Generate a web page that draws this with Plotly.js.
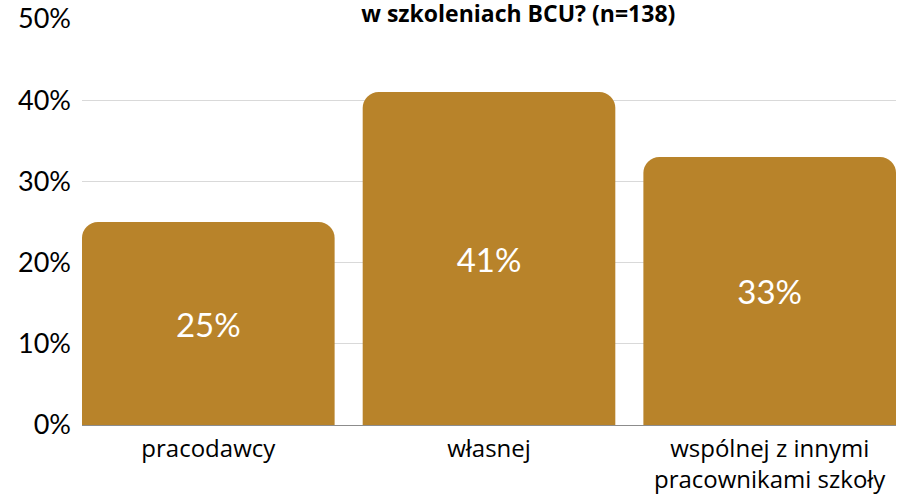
<!DOCTYPE html>
<html>
<head>
<meta charset="utf-8">
<script src="https://cdn.plot.ly/plotly-3.0.1.min.js"></script>
<style>html,body{margin:0;padding:0;background:#fff;}#chart{width:912px;height:495px;}</style>
</head>
<body>
<div id="chart"></div>
<script>
const categories = ["pracodawcy", "własnej", "wspólnej z innymi<br>pracownikami szkoły"];
const values = [25, 41, 33];
const valueLabels = ["25%", "41%", "33%"];
const titleText = "w szkoleniach BCU? (n=138)";
const tickVals = [0, 10, 20, 30, 40, 50];
const tickText = ["0%", "10%", "20%", "30%", "40%", "50%"];

const barColor = "#B8832A";

Plotly.newPlot("chart", [{
  type: "bar",
  x: categories,
  y: values,
  text: valueLabels,
  textposition: "inside",
  insidetextanchor: "middle",
  textfont: {family: "Lato, 'Open Sans', sans-serif", size: 33, color: "#ffffff"},
  marker: {color: barColor, cornerradius: 16, line: {width: 0}},
  hoverinfo: "skip"
}], {
  width: 912, height: 495,
  margin: {l: 82, r: 16, t: 19, b: 70, pad: 0},
  paper_bgcolor: "#ffffff",
  plot_bgcolor: "#ffffff",
  bargap: 0.1,
  showlegend: false,
  title: {
    text: "<b>" + titleText + "</b>",
    font: {family: "'Open Sans', sans-serif", size: 23, color: "#000000"},
    x: 0.536, xanchor: "center", xref: "paper",
    y: 0.988, yanchor: "top", yref: "container",
    pad: {t: 0, b: 0, l: 0, r: 0}
  },
  xaxis: {
    range: [-0.45, 2.45],
    showgrid: false,
    zeroline: false,
    showline: true,
    linecolor: "#8c8c8c",
    linewidth: 1,
    ticks: "",
    ticklabelstandoff: 2,
    tickfont: {family: "'Open Sans', sans-serif", size: 24, color: "#000000"},
    fixedrange: true
  },
  yaxis: {
    range: [0, 50],
    tickvals: tickVals,
    ticktext: tickText,
    showgrid: true,
    gridcolor: "#d9d9d9",
    gridwidth: 1,
    zeroline: false,
    showline: false,
    ticks: "",
    ticklabelstandoff: 10,
    tickfont: {family: "Lato, sans-serif", size: 27, color: "#000000"},
    fixedrange: true
  }
}, {displayModeBar: false, staticPlot: true});
</script>
</body>
</html>
